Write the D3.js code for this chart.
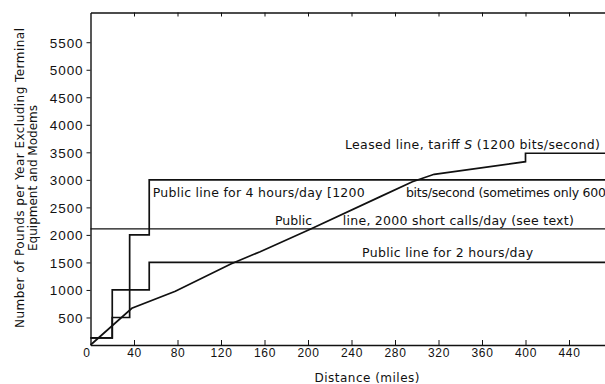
<!DOCTYPE html>
<html>
<head>
<meta charset="utf-8">
<script src="https://cdn.jsdelivr.net/npm/d3@7"></script>
<style>
  html, body { margin: 0; padding: 0; background: #fff; }
  svg { display: block; font-family: "DejaVu Sans", sans-serif; }
</style>
</head>
<body>
<svg id="chart" width="605" height="384"></svg>
<script>
// ---- data ----
const distanceTicks = [0, 40, 80, 120, 160, 200, 240, 280, 320, 360, 400, 440];
const costTicks = [500, 1000, 1500, 2000, 2500, 3000, 3500, 4000, 4500, 5000, 5500];

const public4hDist = [0, 20, 36, 54, 480];
const public4hCost = [130, 500, 2000, 3000, 3000];

const public2hDist = [0, 20, 54, 480];
const public2hCost = [130, 1000, 1500, 1500];

const shortCallsDist = [0, 480];
const shortCallsCost = [2110, 2110];

const leasedDist = [0, 38, 78, 129, 156, 202, 267, 296, 316, 400, 400, 480];
const leasedCost = [0, 667, 975, 1472, 1695, 2102, 2700, 2967, 3101, 3330, 3483, 3483];

const xTitle = "Distance (miles)";
const yTitle1 = "Number of Pounds per Year Excluding Terminal";
const yTitle2 = "Equipment and Modems";

// ---- drawing ----
const svg = d3.select("#chart");
const x = d3.scaleLinear().domain([0, 480]).range([90.5, 612.5]);
const y = d3.scaleLinear().domain([0, 6040]).range([345, 12.5]);

const ink = "#111";

// axes
const yAxis = d3.axisLeft(y).tickValues(costTicks).tickSizeInner(4).tickSizeOuter(0).tickPadding(3).tickFormat(d => d);
const gy = svg.append("g").attr("transform", `translate(${x(0)},0)`).call(yAxis);
gy.selectAll("text").style("font-size", "13.5px").attr("letter-spacing", 0.9).attr("fill", ink).attr("dy", "0.36em");

const xAxis = d3.axisBottom(x).tickValues(distanceTicks).tickSizeInner(-5).tickSizeOuter(0).tickPadding(3).tickFormat(d => d);
const gx = svg.append("g").attr("transform", `translate(0,${y(0)})`).call(xAxis);
gx.selectAll("text").style("font-size", "12px").attr("letter-spacing", 0.6).attr("fill", ink);
gx.selectAll(".tick").filter(d => d === 0).select("text").attr("dx", -4);
gx.selectAll(".tick").filter(d => d === 0).select("line").remove();

const topAxis = d3.axisTop(x).tickValues(distanceTicks.filter(d => d > 0)).tickSizeInner(-4).tickSizeOuter(0).tickFormat("");
svg.append("g").attr("transform", `translate(0,${y(6040)})`).call(topAxis);

svg.selectAll(".domain").attr("stroke", ink).attr("stroke-width", 1.4);
svg.selectAll(".tick line").attr("stroke", ink).attr("stroke-width", 1);

// series
function zip(xs, ys) { return xs.map((d, i) => [d, ys[i]]); }
const stepLine = d3.line().x(d => x(d[0])).y(d => y(d[1])).curve(d3.curveStepAfter);
const straightLine = d3.line().x(d => x(d[0])).y(d => y(d[1]));

const g = svg.append("g").attr("fill", "none").attr("stroke", ink).attr("stroke-width", 1.7);
g.append("path").attr("d", stepLine(zip(public4hDist, public4hCost)));
g.append("path").attr("d", stepLine(zip(public2hDist, public2hCost)));
g.append("path").attr("d", straightLine(zip(shortCallsDist, shortCallsCost))).attr("stroke-width", 1.3);
g.append("path").attr("d", straightLine(zip(leasedDist, leasedCost)));

// annotations
const ann = svg.append("g").attr("font-size", 12.5).attr("fill", ink);
const t1 = ann.append("text").attr("x", x(234)).attr("y", y(3560)).attr("textLength", 255).attr("lengthAdjust", "spacing");
t1.append("tspan").text("Leased line, tariff ");
t1.append("tspan").attr("font-style", "italic").text("S");
t1.append("tspan").text(" (1200 bits/second)");

ann.append("text").attr("x", x(57.2)).attr("y", y(2694)).attr("textLength", 212).attr("lengthAdjust", "spacing")
  .text("Public line for 4 hours/day [1200");
ann.append("text").attr("x", x(290)).attr("y", y(2694)).attr("textLength", 200).attr("lengthAdjust", "spacing")
  .text("bits/second (sometimes only 600");
ann.append("text").attr("x", x(169.7)).attr("y", y(2180)).attr("textLength", 37).attr("lengthAdjust", "spacing")
  .text("Public");
ann.append("text").attr("x", x(232)).attr("y", y(2180)).attr("textLength", 231).attr("lengthAdjust", "spacing")
  .text("line, 2000 short calls/day (see text)");
ann.append("text").attr("x", x(249.7)).attr("y", y(1599)).attr("textLength", 171).attr("lengthAdjust", "spacing")
  .text("Public line for 2 hours/day");

// titles
svg.append("text").attr("x", 367).attr("y", 382).attr("text-anchor", "middle")
  .attr("font-size", 12).attr("fill", ink).attr("textLength", 105).attr("lengthAdjust", "spacing").text(xTitle);
svg.append("text").attr("transform", "translate(24,178) rotate(-90)").attr("text-anchor", "middle")
  .attr("font-size", 12).attr("fill", ink).attr("textLength", 300).attr("lengthAdjust", "spacing").text(yTitle1);
svg.append("text").attr("transform", "translate(37,178) rotate(-90)").attr("text-anchor", "middle")
  .attr("font-size", 12).attr("fill", ink).text(yTitle2);
</script>
</body>
</html>
